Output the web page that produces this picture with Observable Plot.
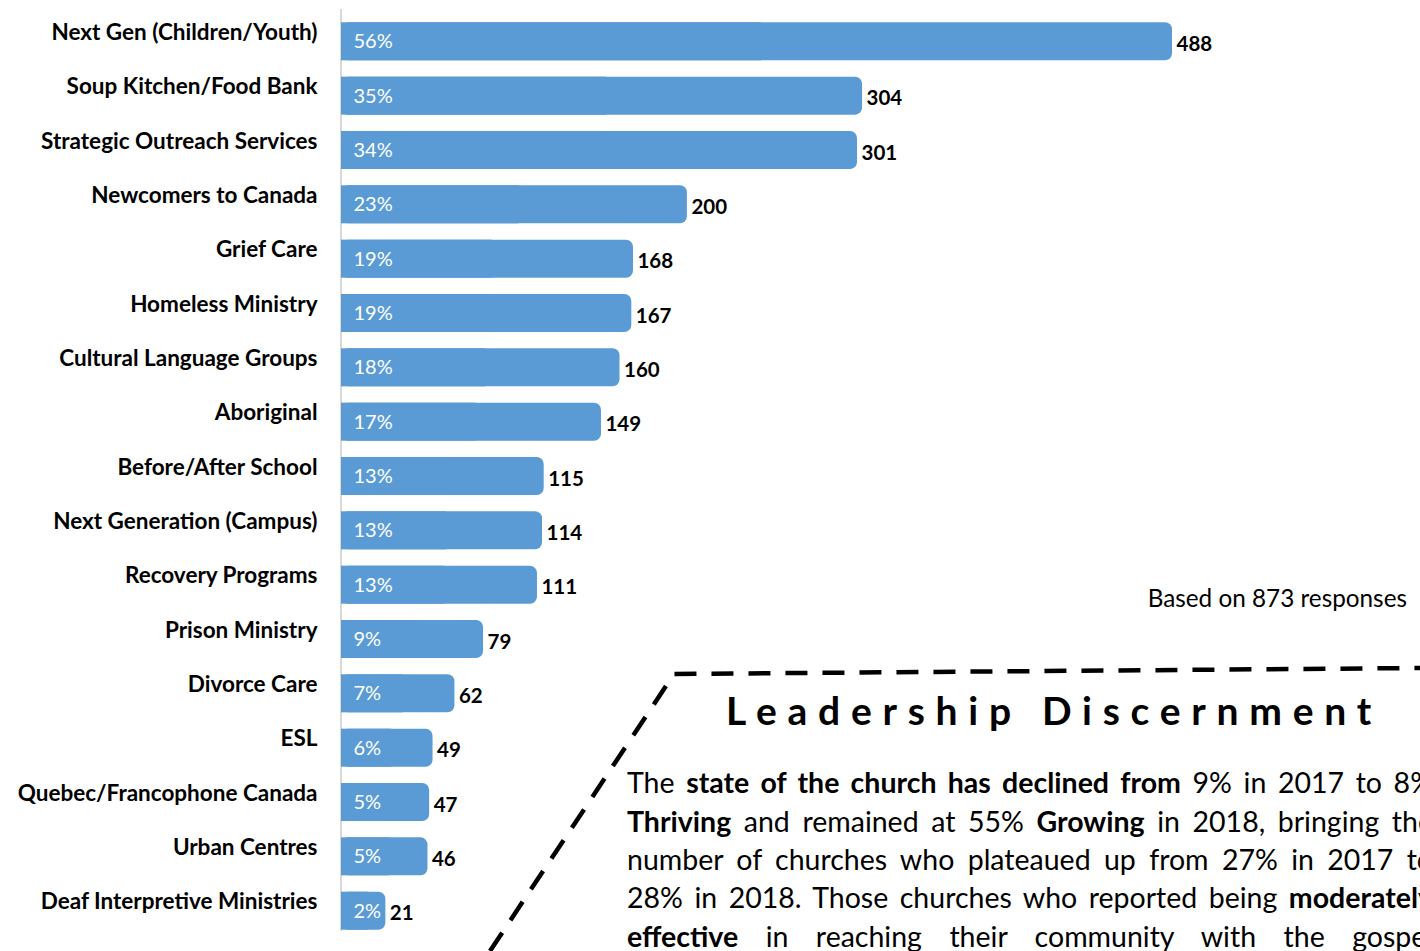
<!DOCTYPE html>
<html>
<head>
<meta charset="utf-8">
<script src="https://cdn.jsdelivr.net/npm/d3@7"></script>
<script src="https://cdn.jsdelivr.net/npm/@observablehq/plot@0.6"></script>
<style>
  html, body { margin: 0; padding: 0; background: #fff; overflow: hidden; width: 1420px; height: 951px; }
  #wrap { position: relative; width: 1420px; height: 951px; font-family: Lato, sans-serif; }
  #chart { position: absolute; left: 0; top: 0; }
  .note { position: absolute; left: 0; top: 0; width: 1420px; height: 951px; pointer-events: none; }
  #based { position: absolute; right: 13px; top: 586px; font-size: 24.3px; line-height: 24px; color: #000; white-space: nowrap; }
  #title { position: absolute; left: 604px; width: 900px; top: 690px; text-align: center; font-size: 39px; line-height: 40px; font-weight: 700; letter-spacing: 0.275em; color: #000; white-space: nowrap; }
  .pl { position: absolute; left: 627px; width: 806px; font-size: 28.5px; color: #000; white-space: nowrap; text-align: justify; text-align-last: justify; line-height: 30px; }
  .pl b { font-weight: 700; }
</style>
</head>
<body>
<div id="wrap">
  <div id="chart"></div>
  <svg class="note" width="1420" height="951">
    <path d="M490,951 L674,674 L1420,668" fill="none" stroke="#000" stroke-width="4.5" stroke-dasharray="22 15"/>
  </svg>
  <div id="based">Based on 873 responses</div>
  <div id="title">Leadership Discernment</div>
  <div class="pl" style="top:767px">The <b>state of the church has declined from</b> 9% in 2017 to 8%</div>
  <div class="pl" style="top:806px"><b>Thriving</b> and remained at 55% <b>Growing</b> in 2018, bringing the</div>
  <div class="pl" style="top:844px">number of churches who plateaued up from 27% in 2017 to</div>
  <div class="pl" style="top:882px">28% in 2018. Those churches who reported being <b>moderately</b></div>
  <div class="pl" style="top:921px"><b>effective</b> in reaching their community with the gospel</div>
</div>
<script>
const categories = [
  "Next Gen (Children/Youth)",
  "Soup Kitchen/Food Bank",
  "Strategic Outreach Services",
  "Newcomers to Canada",
  "Grief Care",
  "Homeless Ministry",
  "Cultural Language Groups",
  "Aboriginal",
  "Before/After School",
  "Next Generation (Campus)",
  "Recovery Programs",
  "Prison Ministry",
  "Divorce Care",
  "ESL",
  "Quebec/Francophone Canada",
  "Urban Centres",
  "Deaf Interpretive Ministries"
];
const counts = [488, 304, 301, 200, 168, 167, 160, 149, 115, 114, 111, 79, 62, 49, 47, 46, 21];
const percents = ["56%", "35%", "34%", "23%", "19%", "19%", "18%", "17%", "13%", "13%", "13%", "9%", "7%", "6%", "5%", "5%", "2%"];

const data = categories.map((c, i) => ({category: c, count: counts[i], pct: percents[i]}));
const half = data.map(d => ({category: d.category, count: d.count / 2}));

const blue = "#5B9BD5";
const font = "Lato, sans-serif";

const chart = Plot.plot({
  width: 1420,
  height: 951,
  marginLeft: 350,
  marginRight: 248,
  marginTop: 6,
  marginBottom: 5,
  style: {background: "transparent", fontFamily: font},
  x: {domain: [0, 488], axis: null},
  y: {domain: categories, padding: 0.3, round: false, axis: null},
  marks: [
    Plot.ruleX([0], {dx: -9.5, stroke: "#d9d9d9", strokeWidth: 2, insetTop: 3, insetBottom: 15}),
    Plot.barX(data, {x: "count", y: "category", fill: blue, rx: 7, insetLeft: -9}),
    Plot.barX(half, {x: "count", y: "category", fill: blue, insetLeft: -9}),
    Plot.text(data, {x: 0, y: "category", text: "pct", textAnchor: "start", dx: 3, dy: 0, fill: "#fff", fontSize: 20, fontFamily: font}),
    Plot.text(data, {x: "count", y: "category", text: d => String(d.count), textAnchor: "start", dx: 4, dy: 2.5, fill: "#000", fontSize: 20.5, fontWeight: 700, fontFamily: font}),
    Plot.text(data, {x: 0, y: "category", text: "category", textAnchor: "end", dx: -33, dy: -9, fill: "#000", fontSize: 22.5, fontWeight: 700, fontFamily: font})
  ]
});
document.getElementById("chart").appendChild(chart);
</script>
</body>
</html>
